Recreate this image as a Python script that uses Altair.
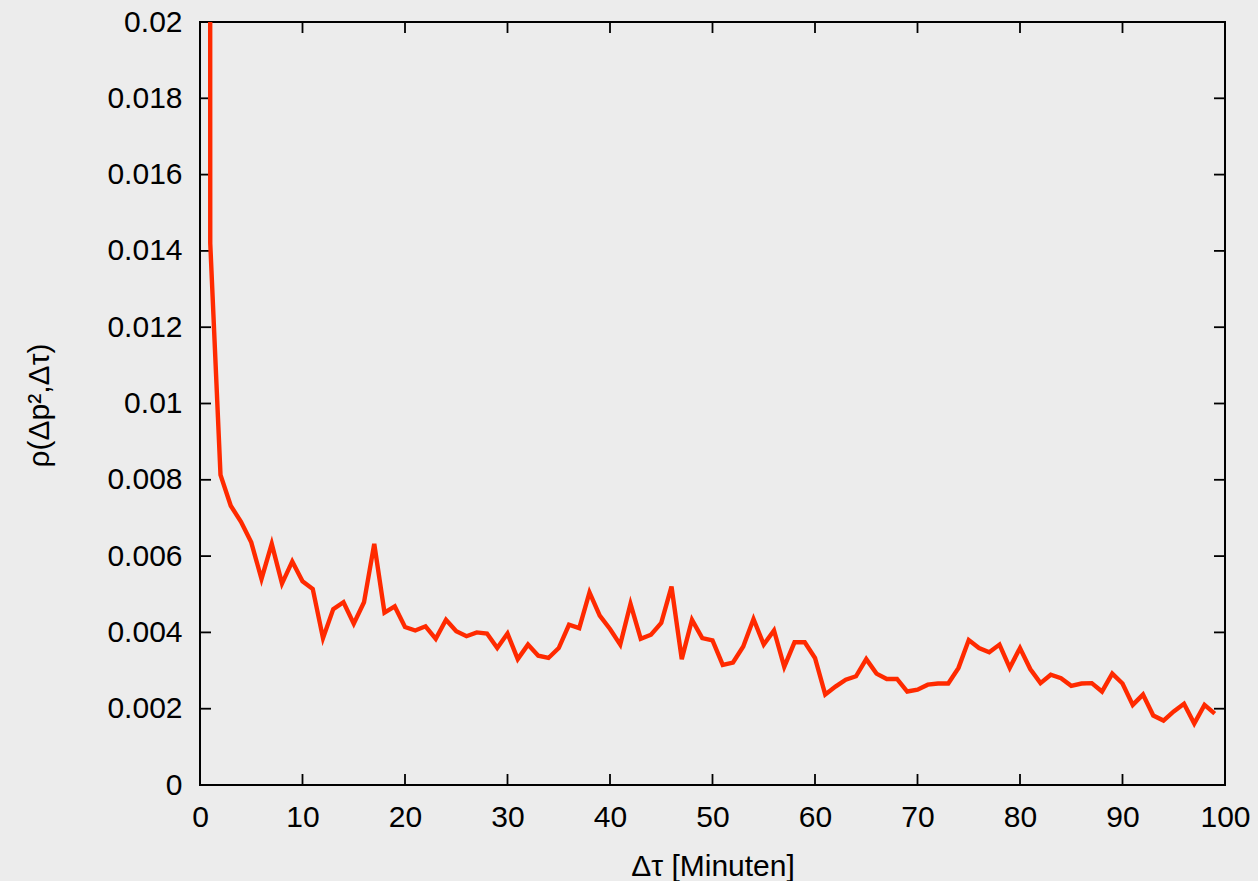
import altair as alt
import pandas as pd

# lag in minutes
tau = list(range(0, 100))
# autocorrelation values
rho = [
    1.0, 0.0142, 0.00813, 0.00732, 0.0069, 0.00636, 0.0054, 0.00632, 0.00528, 0.00586,
    0.00534, 0.00514, 0.00385, 0.00461, 0.00479, 0.00423, 0.00479, 0.00632, 0.00452, 0.00468,
    0.00414, 0.00405, 0.00416, 0.00383, 0.00433, 0.00403, 0.0039, 0.004, 0.00397, 0.00359,
    0.00397, 0.0033, 0.00368, 0.00339, 0.00333, 0.00359, 0.0042, 0.00411, 0.00505, 0.00444,
    0.00409, 0.00368, 0.00475, 0.00383, 0.00394, 0.00425, 0.0052, 0.0033, 0.00433, 0.00385,
    0.00379, 0.00315, 0.00321, 0.00363, 0.00435, 0.00368, 0.00405, 0.0031, 0.00374, 0.00374,
    0.00333, 0.00237, 0.00258, 0.00276, 0.00285, 0.0033, 0.00292, 0.00278, 0.00278, 0.00245,
    0.0025, 0.00263, 0.00266, 0.00266, 0.00307, 0.0038, 0.00359, 0.00348, 0.00368, 0.00307,
    0.00359, 0.00304, 0.00267, 0.00289, 0.0028, 0.0026, 0.00266, 0.00267, 0.00245, 0.00292,
    0.00266, 0.0021, 0.00237, 0.00182, 0.00169, 0.00193, 0.00213, 0.00161, 0.0021, 0.00187,
]
x_ticks = [0, 10, 20, 30, 40, 50, 60, 70, 80, 90, 100]
y_ticks = [0, 0.002, 0.004, 0.006, 0.008, 0.01, 0.012, 0.014, 0.016, 0.018, 0.02]

W, H = 1025, 763
TICK = 11
FONT = "Liberation Sans"
FS = 30

df = pd.DataFrame({"tau": tau, "rho": rho})
xt = pd.DataFrame({"tau": x_ticks})
yt = pd.DataFrame({"rho": y_ticks})

xscale = alt.Scale(domain=[0, 100], nice=False, zero=False)
yscale = alt.Scale(domain=[0, 0.02], nice=False)

line = alt.Chart(df).mark_line(color="#ff2a00", strokeWidth=4.4, clip=True).encode(
    x=alt.X(
        "tau:Q",
        scale=xscale,
        axis=alt.Axis(
            values=x_ticks,
            format="d",
            title="Δτ [Minuten]",
            labelPadding=17,
            labelFlush=False,
            titleBaseline="alphabetic",
            titleY=90,
        ),
    ),
    y=alt.Y(
        "rho:Q",
        scale=yscale,
        axis=alt.Axis(
            values=y_ticks,
            format=".3~f",
            title="ρ(Δp²,Δτ)",
            labelPadding=18,
            labelFlush=False,
            titleAngle=270,
            titleBaseline="alphabetic",
            titleAlign="center",
            titleX=-152,
            titleY=383,
        ),
    ),
)

tick_style = dict(color="black", strokeWidth=1.8)
bottom_ticks = alt.Chart(xt).mark_rule(**tick_style).encode(
    x=alt.X("tau:Q", scale=xscale), y=alt.value(H), y2=alt.value(H - TICK)
)
top_ticks = alt.Chart(xt).mark_rule(**tick_style).encode(
    x=alt.X("tau:Q", scale=xscale), y=alt.value(0), y2=alt.value(TICK)
)
left_ticks = alt.Chart(yt).mark_rule(**tick_style).encode(
    y=alt.Y("rho:Q", scale=yscale), x=alt.value(0), x2=alt.value(TICK)
)
right_ticks = alt.Chart(yt).mark_rule(**tick_style).encode(
    y=alt.Y("rho:Q", scale=yscale), x=alt.value(W), x2=alt.value(W - TICK)
)

chart = (
    alt.layer(bottom_ticks, top_ticks, left_ticks, right_ticks, line)
    .properties(
        width=W,
        height=H,
        autosize=alt.AutoSizeParams(type="none"),
        padding={"left": 200, "top": 22, "right": 33, "bottom": 96},
    )
    .configure(background="#ececec")
    .configure_view(stroke="black", strokeWidth=2)
    .configure_axis(
        domain=False,
        ticks=False,
        grid=False,
        labelFont=FONT,
        labelFontSize=FS,
        labelColor="black",
        titleFont=FONT,
        titleFontSize=FS,
        titleFontWeight="normal",
        titleColor="black",
    )
)

chart.save("out.html", embed_options={"renderer": "svg", "actions": False})
